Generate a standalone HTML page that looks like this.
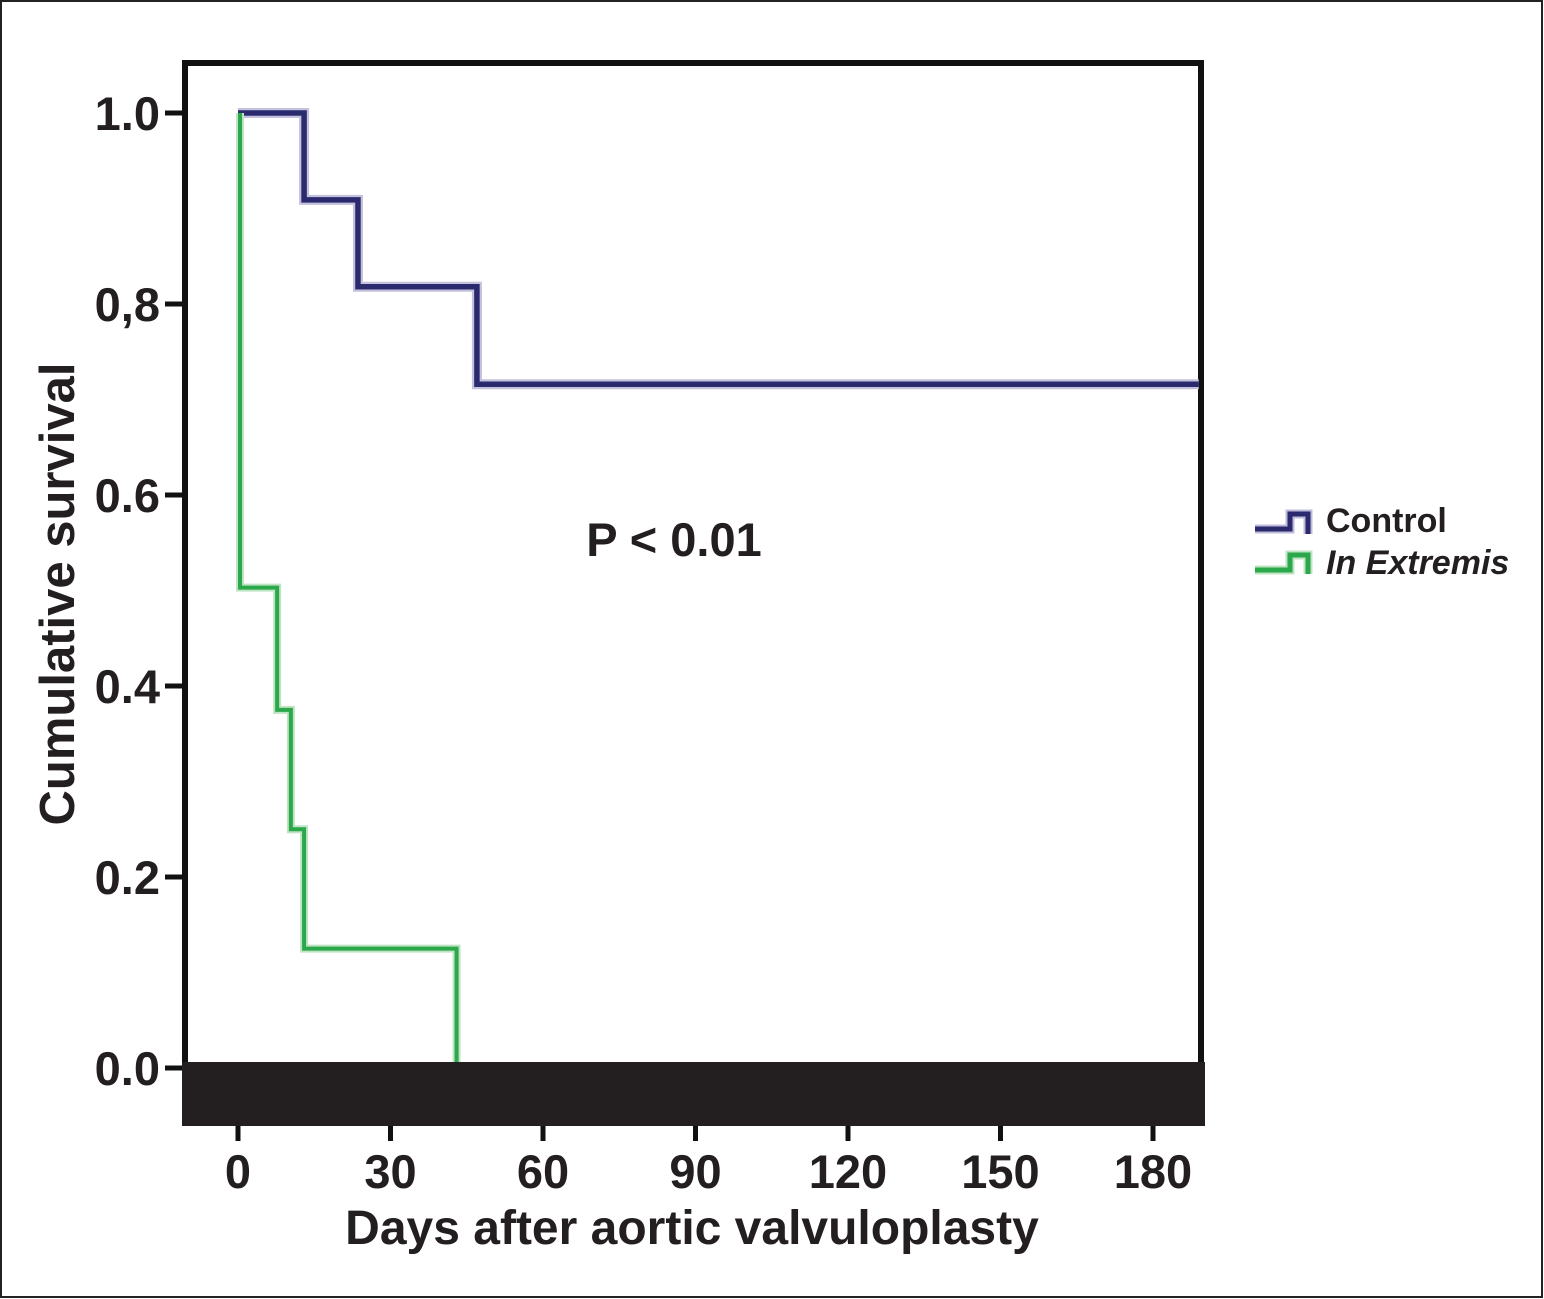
<!DOCTYPE html>
<html><head><meta charset="utf-8"><style>
body{margin:0;background:#fff}
svg{display:block;font-family:"Liberation Sans",Arial,sans-serif;font-weight:bold}
</style></head><body>
<svg width="1544" height="1299" viewBox="0 0 1544 1299">
<rect x="1" y="1" width="1541" height="1296" fill="#fff" stroke="#222" stroke-width="2"/>
<g id="plot"></g>
<text x="674" y="556" font-size="47" text-anchor="middle" fill="#231f20">P &lt; 0.01</text>
<text x="692" y="1244" font-size="48" text-anchor="middle" fill="#231f20">Days after aortic valvuloplasty</text>
<text transform="translate(74,594) rotate(-90)" font-size="49" text-anchor="middle" fill="#231f20">Cumulative survival</text>
<g>
<g>
<path d="M1255,529 H1290 V514 H1308 V534" fill="none" stroke="#bdbbd8" stroke-width="9"/>
<path d="M1255,529 H1290 V514 H1308 V534" fill="none" stroke="#2b2a6e" stroke-width="5"/>
<text x="1326" y="532" font-size="34" fill="#231f20">Control</text>
</g>
<g>
<path d="M1255,570 H1290 V555 H1308 V574" fill="none" stroke="#bfe3c3" stroke-width="9"/>
<path d="M1255,570 H1290 V555 H1308 V574" fill="none" stroke="#2aa84a" stroke-width="5"/>
<text x="1326" y="574" font-size="34" font-style="italic" fill="#231f20">In Extremis</text>
</g>
</g>
</svg>
<script>
const xTicks=[0,30,60,90,120,150,180];
const yTicks=[0,0.2,0.4,0.6,0.8,1.0];
const yTickLabels=["0.0","0.2","0.4","0.6","0,8","1.0"];
const controlTimes=[0,13,23.6,47,189];
const controlSurv=[1.0,0.909,0.818,0.716,0.716];
const extremisTimes=[0.4,7.7,10.4,13,43];
const extremisSurv=[1.0,0.503,0.375,0.25,0.125,0];
const X=d=>238+d*(1153-238)/180;
const Y=v=>1068-v*(1068-113);
const NS="http://www.w3.org/2000/svg";
const g=document.getElementById('plot');
function mk(t,a){const e=document.createElementNS(NS,t);for(const k in a)e.setAttribute(k,a[k]);g.appendChild(e);return e;}
let f=mk('rect',{x:185,y:63,width:1016,height:1060,fill:'#fff',stroke:'#111','stroke-width':6});


let band=mk('rect',{x:182,y:1062,width:1023,height:64,fill:'#231f20'});


yTicks.forEach((v,i)=>{
 let t=mk('line',{x1:165,x2:184,y1:Y(v),y2:Y(v),stroke:'#111','stroke-width':5});
 
 
 let l=mk('text',{x:160,y:Y(v)+17,'font-size':47,'text-anchor':'end',fill:'#231f20'});
 l.textContent=yTickLabels[i];
 
 
});
xTicks.forEach(d=>{
 let t=mk('line',{x1:X(d),x2:X(d),y1:1124,y2:1141,stroke:'#111','stroke-width':5});
 
 
 let l=mk('text',{x:X(d),y:1188,'font-size':47,'text-anchor':'middle',fill:'#231f20'});
 l.textContent=d;
 
 
});
let dc=`M${X(controlTimes[0])},${Y(controlSurv[0])}`;
for(let i=1;i<controlTimes.length;i++){dc+=` H${X(controlTimes[i])}`;if(i<controlSurv.length)dc+=` V${Y(controlSurv[i])}`;}
let de=`M${X(extremisTimes[0])},${Y(extremisSurv[0])} V${Y(extremisSurv[1])}`;
for(let i=1;i<extremisTimes.length;i++){de+=` H${X(extremisTimes[i])} V${Y(extremisSurv[i+1])}`;}
let h1=mk('path',{d:dc,fill:'none',stroke:'#c3c1dc','stroke-width':10});


let l1=mk('path',{d:dc,fill:'none',stroke:'#2b2a6e','stroke-width':5.5});


let h2=mk('path',{d:de,fill:'none',stroke:'#bfe3c3','stroke-width':8});


let l2=mk('path',{d:de,fill:'none',stroke:'#2aa84a','stroke-width':4});


g.appendChild(band);
</script>
</body></html>
